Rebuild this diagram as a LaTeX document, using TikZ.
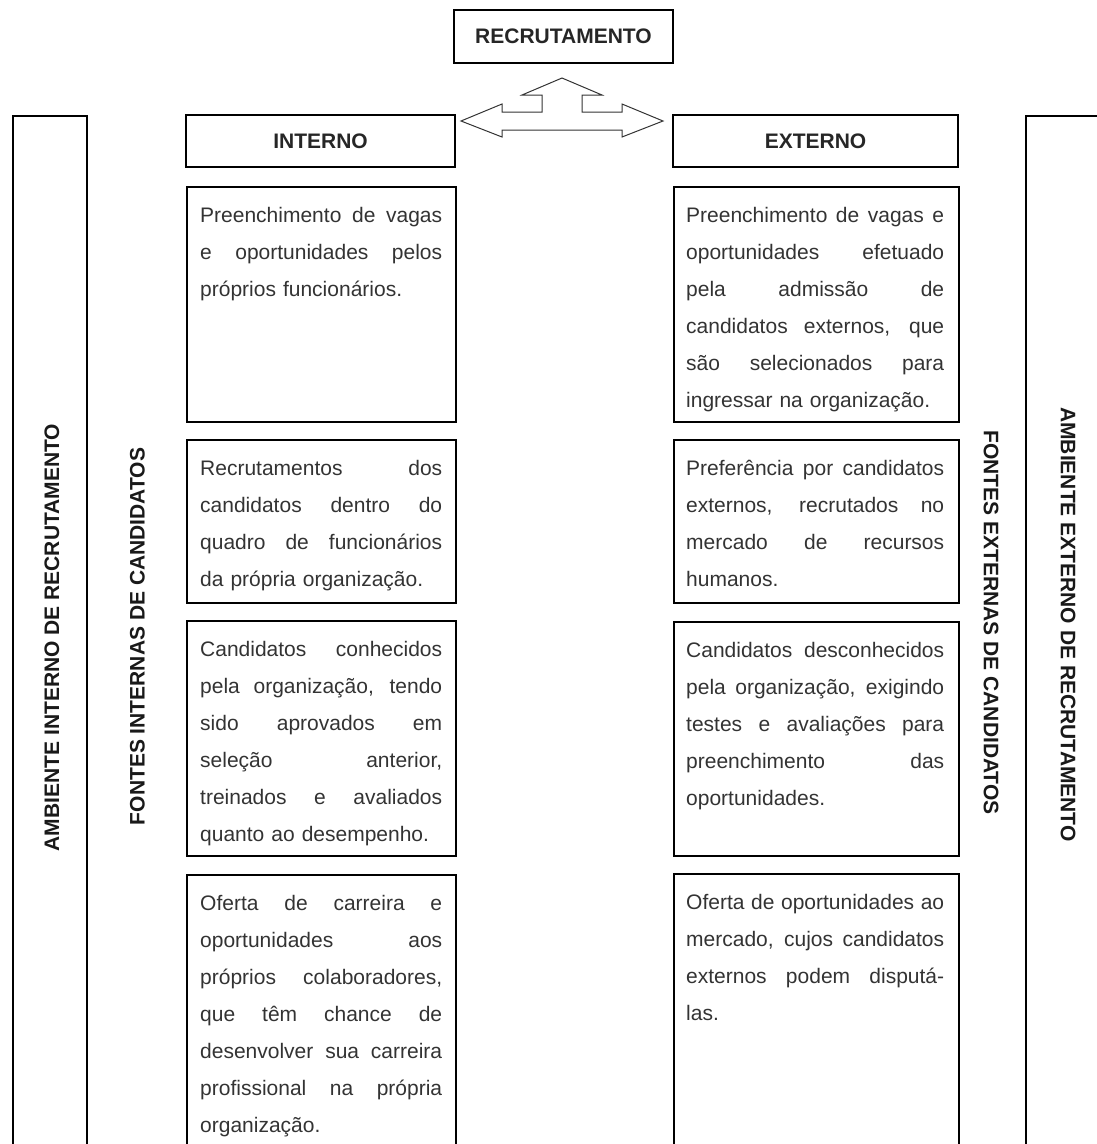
\documentclass[tikz,border=0pt]{standalone}
\usepackage{fontspec}
\setmainfont{Liberation Sans}
\newcommand\jl[1]{\noindent\hbox to \hsize{\spaceskip=0.278em plus 1fil\relax\xspaceskip=\spaceskip\rule{0pt}{20pt}#1}\par}
\newcommand\lastl[1]{\noindent\hbox to \hsize{\rule{0pt}{20pt}#1\hfil}\par}
\begin{document}
\begin{tikzpicture}[x=1pt,y=-1pt,
  frame/.style={draw=black, line width=1.7pt, anchor=north west, inner sep=0pt},
  headbox/.style={draw=black, line width=1.7pt, anchor=center, inner sep=0pt,
    font=\fontsize{21}{25}\selectfont\bfseries, text=black!85},
  body/.style={anchor=north west, inner sep=0pt, font=\fontsize{21}{37}\selectfont, text=black!80},
  bodyL/.style={body, text width=242pt},
  bodyR/.style={body, text width=258pt},
  vlabel/.style={inner sep=0pt, font=\fontsize{21}{25}\selectfont\bfseries, text=black!90}]
\useasboundingbox (0,0) rectangle (1096,1144);

% top title
\node[headbox, minimum width=219pt, minimum height=53pt] (rec) at (563.5,36.5) {RECRUTAMENTO};

% double arrow shape
\draw[line width=1pt, black!80, line join=miter]
  (461,121) -- (502,104) -- (502,112) -- (542,112) -- (542,95) -- (522,95)
  -- (562,78) -- (602,95) -- (582,95) -- (582,112) -- (622,112) -- (622,104)
  -- (663,121) -- (622,137) -- (622,130) -- (502,130) -- (502,137) -- cycle;

% column heads
\node[headbox, minimum width=269pt, minimum height=52pt] (int) at (320.5,141) {INTERNO};
\node[headbox, minimum width=285pt, minimum height=52pt] (ext) at (815.5,141) {EXTERNO};

% outer frames
\node[frame, minimum width=74pt, minimum height=1100pt] (ambi) at (12,115) {};
\node[frame, minimum width=120pt, minimum height=1100pt] (ambe) at (1025,115) {};

% vertical labels
\node[vlabel, rotate=90] (lambi) at (52,637.5) {AMBIENTE INTERNO DE RECRUTAMENTO};
\node[vlabel, rotate=90] (lfonti) at (137.5,636.5) {FONTES INTERNAS DE CANDIDATOS};
\node[vlabel, rotate=-90] (lfonte) at (991,622.5) {FONTES EXTERNAS DE CANDIDATOS};
\node[vlabel, rotate=-90] (lambe) at (1068,624.5) {AMBIENTE EXTERNO DE RECRUTAMENTO};

% internal boxes
\node[frame, minimum width=269pt, minimum height=235pt] (i1) at (186,186) {};
\node[frame, minimum width=269pt, minimum height=163pt] (i2) at (186,439) {};
\node[frame, minimum width=269pt, minimum height=235pt] (i3) at (186,620) {};
\node[frame, minimum width=269pt, minimum height=400pt] (i4) at (186,874) {};

% external boxes
\node[frame, minimum width=285pt, minimum height=235pt] (e1) at (673,186) {};
\node[frame, minimum width=285pt, minimum height=163pt] (e2) at (673,439) {};
\node[frame, minimum width=285pt, minimum height=234pt] (e3) at (673,621) {};
\node[frame, minimum width=285pt, minimum height=400pt] (e4) at (673,873) {};

% internal texts
\node[bodyL] (ti1) at (200,202) {%
\jl{Preenchimento de vagas}
\jl{e oportunidades pelos}
\lastl{próprios funcionários.}};
\node[bodyL] (ti2) at (200,455) {%
\jl{Recrutamentos dos}
\jl{candidatos dentro do}
\jl{quadro de funcionários}
\lastl{da própria organização.}};
\node[bodyL] (ti3) at (200,636) {%
\jl{Candidatos conhecidos}
\jl{pela organização, tendo}
\jl{sido aprovados em}
\jl{seleção anterior,}
\jl{treinados e avaliados}
\lastl{quanto ao desempenho.}};
\node[bodyL] (ti4) at (200,890) {%
\jl{Oferta de carreira e}
\jl{oportunidades aos}
\jl{próprios colaboradores,}
\jl{que têm chance de}
\jl{desenvolver sua carreira}
\jl{profissional na própria}
\lastl{organização.}};

% external texts
\node[bodyR] (te1) at (686,202) {%
\jl{Preenchimento de vagas e}
\jl{oportunidades efetuado}
\jl{pela admissão de}
\jl{candidatos externos, que}
\jl{são selecionados para}
\lastl{ingressar na organização.}};
\node[bodyR] (te2) at (686,455) {%
\jl{Preferência por candidatos}
\jl{externos, recrutados no}
\jl{mercado de recursos}
\lastl{humanos.}};
\node[bodyR] (te3) at (686,637) {%
\jl{Candidatos desconhecidos}
\jl{pela organização, exigindo}
\jl{testes e avaliações para}
\jl{preenchimento das}
\lastl{oportunidades.}};
\node[bodyR] (te4) at (686,889) {%
\jl{Oferta de oportunidades ao}
\jl{mercado, cujos candidatos}
\jl{externos podem disputá-}
\lastl{las.}};
\end{tikzpicture}
\end{document}
